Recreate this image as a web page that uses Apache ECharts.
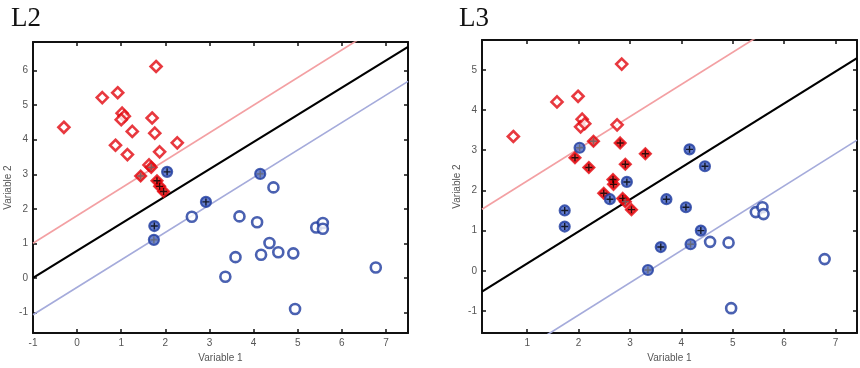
<!DOCTYPE html>
<html><head><meta charset="utf-8">
<script src="https://cdn.jsdelivr.net/npm/echarts@6/dist/echarts.min.js"></script>
<style>html,body{margin:0;padding:0;background:#fff}#c{width:860px;height:368px}</style>
</head><body><div id="c"></div>
<script>
// ---- tick labels ----
const xTicksL2 = [-1, 0, 1, 2, 3, 4, 5, 6, 7];
const yTicksL2 = [-1, 0, 1, 2, 3, 4, 5, 6];
const xTicksL3 = [1, 2, 3, 4, 5, 6, 7];
const yTicksL3 = [-1, 0, 1, 2, 3, 4, 5];

// ---- L2 data ----
const redL2 = [[-0.30,4.36],[0.57,5.22],[0.92,5.36],[1.79,6.12],[1.02,4.77],[1.07,4.68],[1.00,4.58],[1.70,4.63],[1.25,4.24],[1.76,4.19],[0.87,3.84],[2.27,3.91],[1.87,3.65],[1.14,3.57],[1.63,3.27]];
const redPartL2 = [[1.68,3.20],[1.44,2.95]];
const redSvL2 = [[1.81,2.81],[1.87,2.65],[1.96,2.50]];
const blueL2 = [[2.60,1.77],[3.68,1.78],[4.08,1.61],[4.45,2.62],[5.42,1.46],[5.57,1.59],[5.57,1.42],[4.36,1.01],[4.17,0.67],[4.56,0.74],[4.90,0.71],[3.59,0.60],[3.36,0.03],[6.77,0.30],[4.94,-0.90]];
const blueSvL2 = [[2.04,3.07],[2.92,2.20],[1.75,1.50]];
const bluePartL2 = [[4.15,3.01],[1.74,1.10]];
const boundaryL2 = [[-1,0.00],[7.5,6.69]];
const marginRedL2 = [[-1,1.00],[7.5,7.80]];
const marginBlueL2 = [[-1,-1.07],[7.5,5.69]];

// ---- L3 data ----
const redL3 = [[0.73,3.34],[1.58,4.20],[1.99,4.34],[2.84,5.14],[2.07,3.77],[2.04,3.58],[2.12,3.66],[2.75,3.63]];
const redPartL3 = [[2.29,3.22],[2.91,1.72]];
const redSvL3 = [[2.81,3.18],[1.93,2.81],[2.20,2.57],[2.91,2.65],[3.30,2.91],[2.67,2.27],[2.68,2.15],[2.49,1.93],[2.86,1.80],[3.03,1.52]];
const blueL3 = [[5.45,1.46],[5.58,1.58],[5.60,1.41],[4.56,0.72],[4.92,0.70],[6.79,0.29],[4.97,-0.93]];
const blueSvL3 = [[4.16,3.02],[4.46,2.60],[2.94,2.21],[2.61,1.78],[3.71,1.78],[4.09,1.58],[1.73,1.50],[1.73,1.10],[4.38,1.00],[3.60,0.59]];
const bluePartL3 = [[2.02,3.06],[4.18,0.66],[3.35,0.02]];
const boundaryL3 = [[0.12,-0.52],[7.42,5.29]];
const marginRedL3 = [[0.12,1.53],[7.42,7.37]];
const marginBlueL3 = [[0.12,-2.61],[7.42,3.25]];

const RED = '#e2080f', BLUE = '#1d3a9e';
const PLUS = 'path://M4,0H6V4H10V6H6V10H4V6H0V4H4Z';
const labelStyle = {color:'#555', fontSize:10, fontFamily:'Liberation Sans, Arial, sans-serif'};

function xAx(g, min, max, ticks, pos, show) {
  return {type:'value', gridIndex:g, min, max, position:pos,
    name: show ? 'Variable 1' : '', nameLocation:'middle', nameGap:19,
    nameTextStyle:{color:'#555', fontSize:10, fontFamily:'Liberation Sans, Arial, sans-serif'},
    axisLine:{show:true, onZero:false, lineStyle:{color:'#111', width:2}},
    axisTick:{show:true, inside:true, length:4, customValues:ticks, lineStyle:{color:'#111', width:1.5}},
    axisLabel:{show:show, customValues:ticks, margin:5, ...labelStyle},
    splitLine:{show:false}};
}
function yAx(g, min, max, ticks, pos, show) {
  return {type:'value', gridIndex:g, min, max, position:pos,
    name: show ? 'Variable 2' : '', nameLocation:'middle', nameGap:20, nameRotate:90,
    nameTextStyle:{color:'#555', fontSize:10, fontFamily:'Liberation Sans, Arial, sans-serif'},
    axisLine:{show:true, onZero:false, lineStyle:{color:'#111', width:2}},
    axisTick:{show:true, inside:true, length:4, customValues:ticks, lineStyle:{color:'#111', width:1.5}},
    axisLabel:{show:show, customValues:ticks, margin:5, ...labelStyle},
    splitLine:{show:false}};
}

function lineS(xi, yi, data, color, width) {
  return {type:'line', xAxisIndex:xi, yAxisIndex:yi, data, showSymbol:false, symbol:'none',
    lineStyle:{color, width}, clip:true, silent:true, z:2, animation:false};
}
function hollow(xi, yi, data, symbol, color, size) {
  return {type:'scatter', xAxisIndex:xi, yAxisIndex:yi, data, symbol, symbolSize:size,
    itemStyle:{color:'#fff', borderColor:color, borderWidth:2.6}, z:3, animation:false};
}
function filled(xi, yi, data, symbol, color, border, size) {
  return {type:'scatter', xAxisIndex:xi, yAxisIndex:yi, data, symbol, symbolSize:size,
    itemStyle:{color, borderColor:border, borderWidth:2.2}, z:4, animation:false};
}
function plus(xi, yi, data, color) {
  return {type:'scatter', xAxisIndex:xi, yAxisIndex:yi, data, symbol:PLUS, symbolSize:7,
    itemStyle:{color}, z:5, animation:false};
}

function panel(xi, yi, d) {
  return [
    lineS(xi, yi, d.mr, '#f3a0a3', 1.7),
    lineS(xi, yi, d.mb, '#a5abdb', 1.7),
    lineS(xi, yi, d.b, '#000', 2.2),
    hollow(xi, yi, d.r, 'diamond', RED, 11),
    hollow(xi, yi, d.bl, 'circle', BLUE, 10),
    filled(xi, yi, d.rp, 'diamond', '#ee3030', RED, 11),
    filled(xi, yi, d.rs, 'diamond', '#ee0a0a', RED, 11),
    filled(xi, yi, d.bp, 'circle', '#4b66c2', BLUE, 10),
    filled(xi, yi, d.bs, 'circle', '#3f5cc0', BLUE, 10),
    plus(xi, yi, d.rs.concat(d.bs), '#000'),
    plus(xi, yi, d.rp.concat(d.bp), '#666')
  ];
}

const chart = echarts.init(document.getElementById('c'), null, {renderer:'canvas'});
chart.setOption({
  animation:false,
  backgroundColor:'#fff',
  title:[
    {text:'L2', left:6, top:0, textStyle:{fontFamily:'Liberation Serif, DejaVu Serif, serif', fontWeight:'normal', fontSize:27, color:'#111'}},
    {text:'L3', left:454, top:0, textStyle:{fontFamily:'Liberation Serif, DejaVu Serif, serif', fontWeight:'normal', fontSize:27, color:'#111'}}
  ],
  grid:[
    {left:33, right:452, top:42, bottom:31, containLabel:false},
    {left:482, right:3, top:40, bottom:31, containLabel:false}
  ],
  xAxis:[
    xAx(0, -1, 7.5, xTicksL2, 'bottom', true),
    xAx(0, -1, 7.5, xTicksL2, 'top', false),
    xAx(1, 0.12, 7.42, xTicksL3, 'bottom', true),
    xAx(1, 0.12, 7.42, xTicksL3, 'top', false)
  ],
  yAxis:[
    yAx(0, -1.6, 6.83, yTicksL2, 'left', true),
    yAx(0, -1.6, 6.83, yTicksL2, 'right', false),
    yAx(1, -1.55, 5.74, yTicksL3, 'left', true),
    yAx(1, -1.55, 5.74, yTicksL3, 'right', false)
  ],
  series:[].concat(
    panel(0, 0, {r:redL2, rp:redPartL2, rs:redSvL2, bl:blueL2, bs:blueSvL2, bp:bluePartL2, b:boundaryL2, mr:marginRedL2, mb:marginBlueL2}),
    panel(2, 2, {r:redL3, rp:redPartL3, rs:redSvL3, bl:blueL3, bs:blueSvL3, bp:bluePartL3, b:boundaryL3, mr:marginRedL3, mb:marginBlueL3})
  )
});
</script></body></html>
